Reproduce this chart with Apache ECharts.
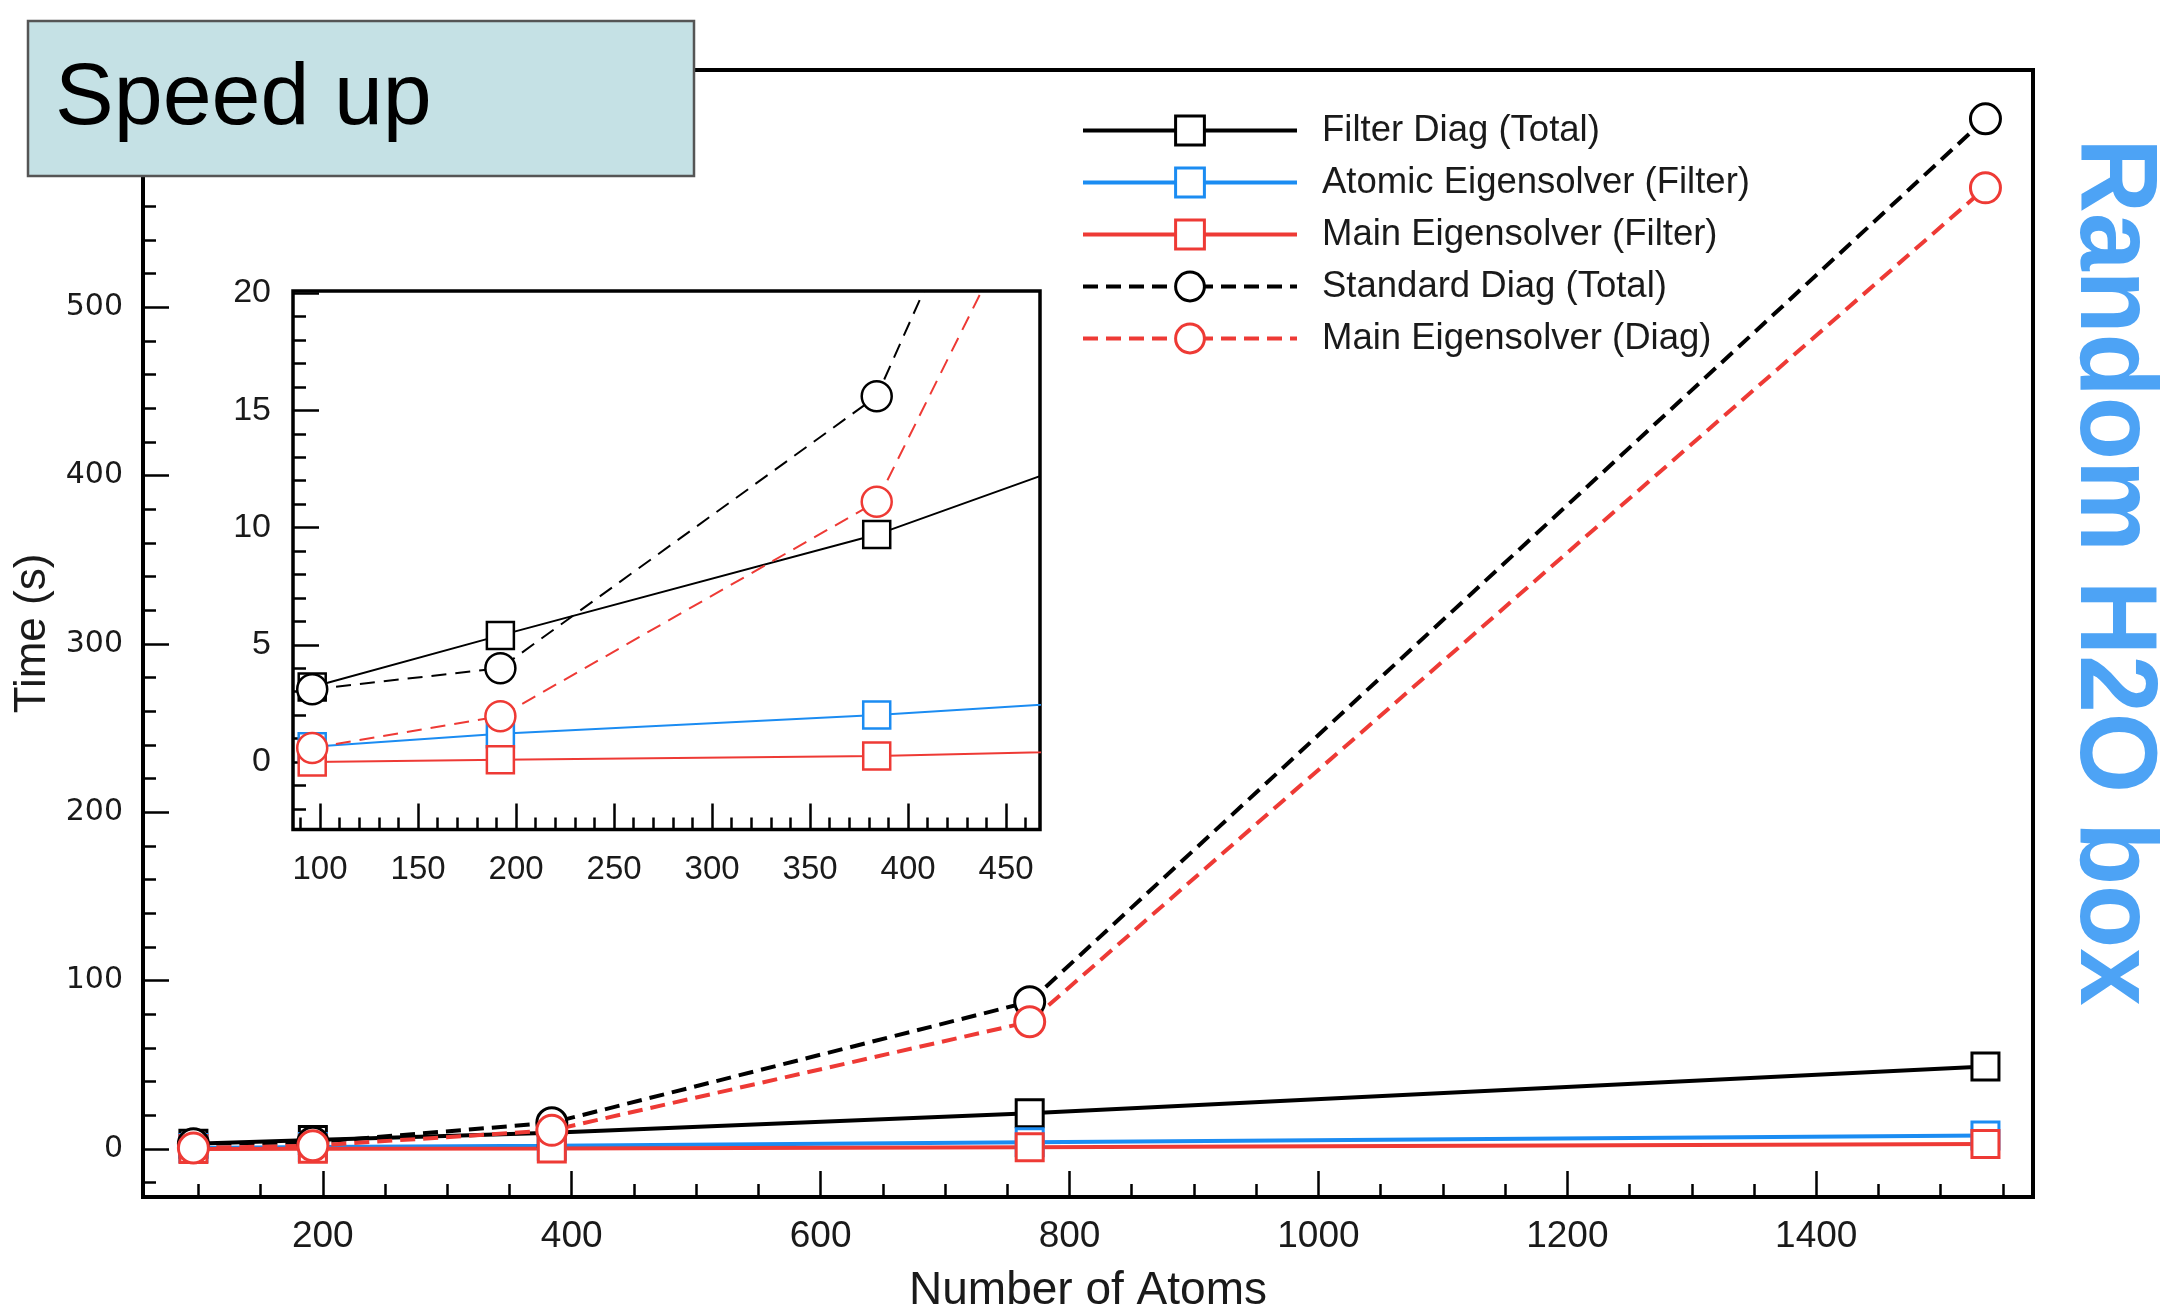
<!DOCTYPE html>
<html>
<head>
<meta charset="utf-8">
<title>Speed up - Random H2O box</title>
<script src="https://cdn.jsdelivr.net/npm/echarts@6/dist/echarts.min.js"></script>
<style>
  html, body { margin: 0; padding: 0; background: #fff; }
  #chart { width: 2175px; height: 1311px; }
</style>
</head>
<body>
<div id="chart"></div>
<script>
// values (time in seconds)
const atoms = [96, 192, 384, 768, 1536];
const filterDiagTotal = [3.2, 5.4, 9.7, 21.2, 49];
const atomicEigenFilter = [0.65, 1.2, 2.0, 4.0, 8.0];
const mainEigenFilter = [0.0, 0.1, 0.25, 1.0, 3.0];
const standardDiagTotal = [3.1, 4.0, 15.6, 87.5, 612];
const mainEigenDiag = [0.6, 1.95, 11.1, 75.6, 571];

const seriesNames = ['Filter Diag (Total)', 'Atomic Eigensolver (Filter)', 'Main Eigensolver (Filter)',
  'Standard Diag (Total)', 'Main Eigensolver (Diag)'];

// tick labels
const xLabelsMain = [200, 400, 600, 800, 1000, 1200, 1400];
const yLabelsMain = [0, 100, 200, 300, 400, 500];
const xLabelsInset = [100, 150, 200, 250, 300, 350, 400, 450];
const yLabelsInset = [0, 5, 10, 15, 20];

function steps(from, to, step) {
  let out = [];
  for (let v = from; v <= to + 1e-9; v += step) out.push(Math.round(v * 100) / 100);
  return out;
}

const font = 'Liberation Sans';
const textColor = '#1a1a1a';

function axis(dim, gridIndex, min, max, ticks, tickLen, labelOpt, extra) {
  return Object.assign({
    type: 'value',
    gridIndex: gridIndex,
    position: dim === 'x' ? 'bottom' : 'left',
    min: min,
    max: max,
    axisLine: {show: false, onZero: false},
    splitLine: {show: false},
    axisTick: {
      show: true,
      inside: true,
      length: tickLen,
      customValues: ticks,
      lineStyle: {color: '#000', width: 2.5}
    },
    axisLabel: labelOpt ? Object.assign({
      customValues: ticks,
      fontFamily: font,
      color: textColor,
      formatter: (v) => String(v)
    }, labelOpt) : {show: false}
  }, extra || {});
}

function makeSeries(name, values, color, symbol, dashed, inset) {
  return {
    name: name,
    type: 'line',
    xAxisIndex: inset ? 2 : 0,
    yAxisIndex: inset ? 2 : 0,
    data: atoms.map((a, i) => [a, values[i]]),
    symbol: symbol,
    symbolSize: symbol === 'circle' ? 30 : 27,
    showAllSymbol: true,
    clip: true,
    lineStyle: {
      color: color,
      width: inset ? 2 : 4,
      type: dashed ? (inset ? [15, 9] : [15, 8]) : 'solid'
    },
    itemStyle: {color: '#fff', borderColor: color, borderWidth: inset ? 2.5 : 3},
    emphasis: {disabled: true}
  };
}

const colors = ['#000000', '#1b8cf2', '#ee3a35', '#000000', '#ee3a35'];
const symbols = ['rect', 'rect', 'rect', 'circle', 'circle'];
const dashes = [false, false, false, true, true];
const values = [filterDiagTotal, atomicEigenFilter, mainEigenFilter, standardDiagTotal, mainEigenDiag];

let series = [];
[false, true].forEach((inset) => {
  seriesNames.forEach((name, i) => {
    series.push(makeSeries(name, values[i], colors[i], symbols[i], dashes[i], inset));
  });
});

let chart = echarts.init(document.getElementById('chart'));
chart.setOption({
  animation: false,
  backgroundColor: '#fff',
  grid: [
    {left: 143, top: 70, width: 1890, height: 1127, show: true, borderColor: '#000', borderWidth: 4,
      backgroundColor: 'transparent', outerBoundsMode: 'none'},
    {left: 293, top: 291, width: 747, height: 538.5, show: true, borderColor: '#000', borderWidth: 3.5,
      backgroundColor: '#fff', outerBoundsMode: 'none'}
  ],
  xAxis: [
    axis('x', 0, 55.5, 1574.2, xLabelsMain, 26, {fontSize: 37, margin: 21}, {
      name: 'Number of Atoms', nameLocation: 'middle', nameGap: 71,
      nameTextStyle: {fontSize: 46, fontFamily: font, color: textColor}
    }),
    axis('x', 0, 55.5, 1574.2, steps(100, 1550, 50), 13, null),
    axis('x', 1, 86.2, 467.3, xLabelsInset, 26, {fontSize: 33, margin: 24}),
    axis('x', 1, 86.2, 467.3, steps(90, 460, 10), 12, null)
  ],
  yAxis: [
    axis('y', 0, -28.5, 641, yLabelsMain, 26, {fontSize: 30, fontFamily: 'DejaVu Sans', margin: 20}, {
      name: 'Time (s)', nameLocation: 'middle', nameGap: 88,
      nameTextStyle: {fontSize: 44, fontFamily: font, color: textColor}
    }),
    axis('y', 0, -28.5, 641, steps(-20, 640, 20), 13, null),
    axis('y', 1, -2.88, 20.09, yLabelsInset, 26, {fontSize: 34, margin: 22}),
    axis('y', 1, -2.88, 20.09, steps(-2, 20, 1), 13, null)
  ],
  legend: {
    orient: 'vertical',
    left: 1076,
    top: 107,
    itemWidth: 214,
    itemHeight: 36,
    itemGap: 15,
    selectedMode: false,
    data: seriesNames,
    itemStyle: {borderWidth: 3},
    lineStyle: {width: 4},
    textStyle: {fontSize: 36.5, fontFamily: font, color: textColor, lineHeight: 36, padding: [0, 0, 0, 20]}
  },
  series: series,
  graphic: [
    {
      type: 'rect', z: 100,
      shape: {x: 28, y: 21, width: 666, height: 155},
      style: {fill: '#c5e1e5', stroke: '#555', lineWidth: 2.5}
    },
    {
      type: 'text', z: 101, x: 55, y: 100,
      style: {text: 'Speed up', fontSize: 88, fontFamily: font, fill: '#000',
        align: 'left', textAlign: 'left', verticalAlign: 'middle', textVerticalAlign: 'middle'}
    },
    {
      type: 'text', z: 101, x: 2111, y: 572, rotation: -Math.PI / 2, scaleX: 0.94,
      style: {text: 'Random H2O box', fontSize: 110, fontWeight: 'bold', fontFamily: font, fill: '#4da3f5',
        align: 'center', textAlign: 'center', verticalAlign: 'middle', textVerticalAlign: 'middle'}
    }
  ]
});
</script>
</body>
</html>
